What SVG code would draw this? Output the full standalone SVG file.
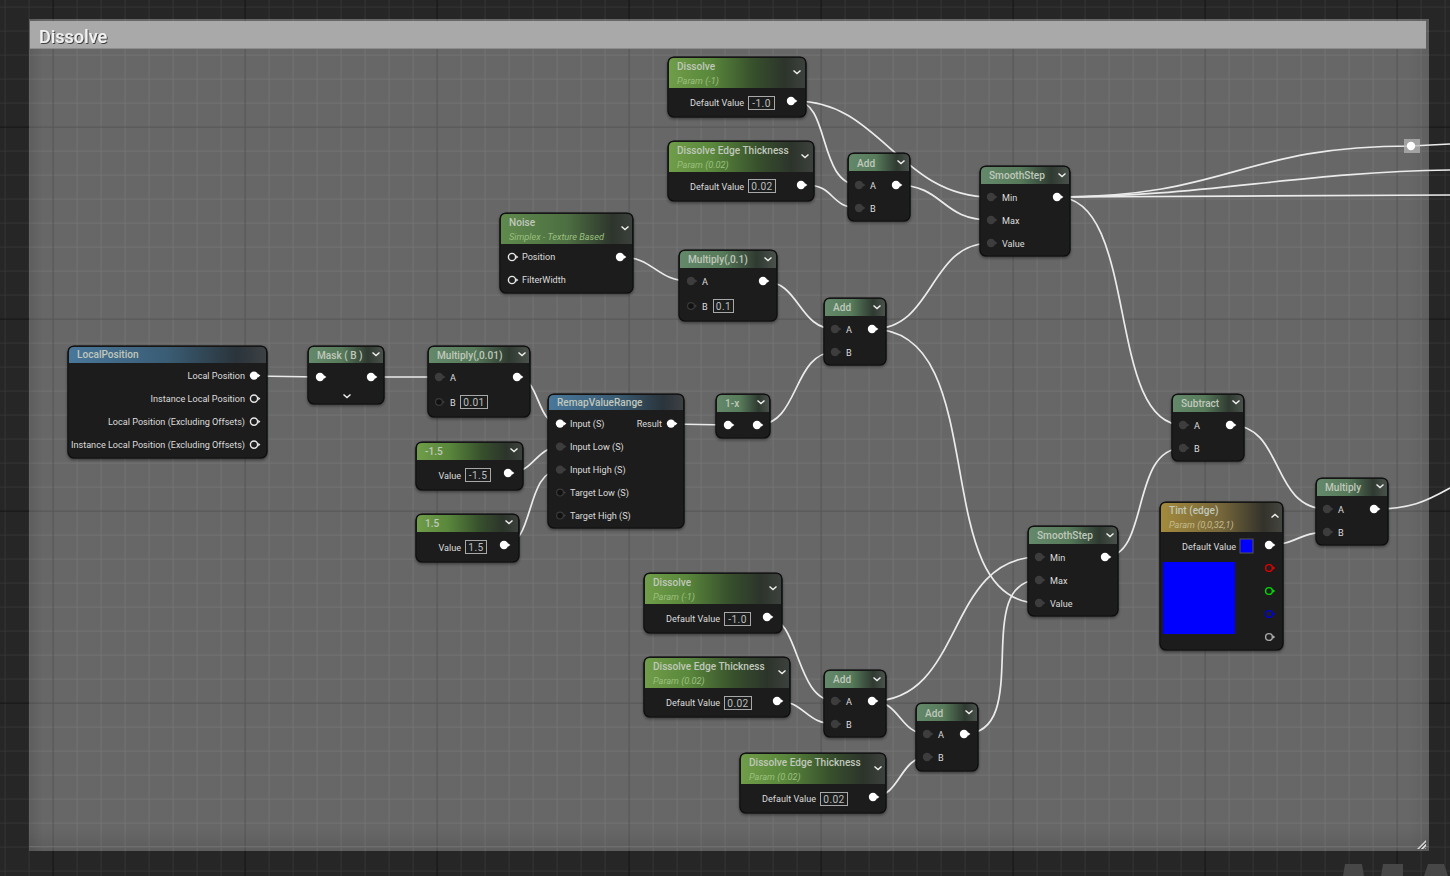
<svg xmlns="http://www.w3.org/2000/svg" width="1450" height="876" viewBox="0 0 1450 876">
<style>
text{font-family:Roboto,"Liberation Sans",sans-serif}
.b{fill:#1e1f1f;stroke:#0b0b0b;stroke-width:1.2;filter:url(#sh)}
.t{font-size:10.1px;fill:#c0c8bc;font-weight:500}
.s{font-size:9.2px;font-style:italic;fill:#9cc07e}
.st{fill:#c4bb8e}
.l{font-size:9.1px;fill:#dcdcdc}
.e{text-anchor:end}
.v{fill:#1c1d1d;stroke:#a8a8a8;stroke-width:1}
.vt{font-size:10.2px;fill:#bdbdbd;text-anchor:middle;letter-spacing:.4px}
.c{fill:none;stroke:#f0f0f0;stroke-width:1.4}
.w{fill:none;stroke:#ebebeb;stroke-width:1.7}
.g{fill:url(#gG)}.m{fill:url(#gM)}.u{fill:url(#gB)}.y{fill:url(#gY)}.n2{fill:url(#gN)}
</style>
<defs>
<filter id="sh" x="-10%" y="-10%" width="120%" height="125%"><feDropShadow dx="0" dy="1.5" stdDeviation="1.5" flood-color="#000" flood-opacity=".45"/></filter>
<filter id="ts"><feDropShadow dx="1" dy="1" stdDeviation=".6" flood-color="#222" flood-opacity=".8"/></filter>
<pattern id="gOut" width="192" height="192" patternUnits="userSpaceOnUse" x="52.6" y="126.6">
<rect width="192" height="192" fill="#262626"/>
<path d="M24.5 0V192M48.5 0V192M72.5 0V192M96.5 0V192M120.5 0V192M144.5 0V192M168.5 0V192M0 24.5H192M0 48.5H192M0 72.5H192M0 96.5H192M0 120.5H192M0 144.5H192M0 168.5H192" stroke="#343434" stroke-width="1"/>
<path d="M.5 0V192M0 .5H192" stroke="#141414" stroke-width="1"/>
</pattern>
<pattern id="gIn" width="192" height="192" patternUnits="userSpaceOnUse" x="52.6" y="126.6">
<rect width="192" height="192" fill="#676767"/>
<path d="M24.5 0V192M48.5 0V192M72.5 0V192M96.5 0V192M120.5 0V192M144.5 0V192M168.5 0V192M0 24.5H192M0 48.5H192M0 72.5H192M0 96.5H192M0 120.5H192M0 144.5H192M0 168.5H192" stroke="#737373" stroke-width="1"/>
<path d="M.5 0V192M0 .5H192" stroke="#555" stroke-width="1"/>
</pattern>
<pattern id="hatch" width="3" height="3" patternUnits="userSpaceOnUse" patternTransform="rotate(45)"><rect width="3" height="3" fill="#444"/><rect width="1.6" height="3" fill="#fff"/></pattern>
<linearGradient id="gG"><stop offset="0" stop-color="#6f9d48"/><stop offset=".3" stop-color="#5a883c"/><stop offset=".62" stop-color="#37502c"/><stop offset=".85" stop-color="#2c342b"/><stop offset="1" stop-color="#3d413d"/></linearGradient>
<linearGradient id="gN"><stop offset="0" stop-color="#5f8a4c"/><stop offset=".5" stop-color="#4d6f42"/><stop offset=".85" stop-color="#2d352c"/><stop offset="1" stop-color="#3c403c"/></linearGradient>
<linearGradient id="gM"><stop offset="0" stop-color="#64896a"/><stop offset=".45" stop-color="#567a5a"/><stop offset=".8" stop-color="#2f3a31"/><stop offset="1" stop-color="#4a514b"/></linearGradient>
<linearGradient id="gB"><stop offset="0" stop-color="#49779a"/><stop offset=".5" stop-color="#3a5c74"/><stop offset=".85" stop-color="#2a343b"/><stop offset="1" stop-color="#3d4144"/></linearGradient>
<linearGradient id="gY"><stop offset="0" stop-color="#a38a3c"/><stop offset=".5" stop-color="#75663a"/><stop offset=".85" stop-color="#33322b"/><stop offset="1" stop-color="#45453f"/></linearGradient>
<linearGradient id="vb" x1="0" y1="0" x2="0" y2="1"><stop offset="0" stop-color="#000" stop-opacity="0"/><stop offset="1" stop-color="#000" stop-opacity=".1"/></linearGradient>
<linearGradient id="vr"><stop offset="0" stop-color="#000" stop-opacity="0"/><stop offset="1" stop-color="#000" stop-opacity=".08"/></linearGradient>
<linearGradient id="vl"><stop offset="0" stop-color="#000" stop-opacity=".1"/><stop offset="1" stop-color="#000" stop-opacity="0"/></linearGradient>
<path id="chD" class="c" d="M-3.5 -1.6L0 1.6L3.5 -1.6"/>
<path id="chU" class="c" d="M-3.5 1.6L0 -1.6L3.5 1.6"/>
<g id="pO"><circle r="4.2" fill="#fff"/><path d="M4 -1.8L6.4 0L4 1.8Z" fill="#fff"/></g>
<g id="pH"><circle r="3.6" fill="#1e1f1f" stroke="#e8e8e8" stroke-width="1.4"/><path d="M4.2 -1.8L6.4 0L4.2 1.8Z" fill="#e8e8e8"/></g>
<g id="pC"><circle r="4.2" fill="#3c3d3c"/><path d="M4 -1.8L6.4 0L4 1.8Z" fill="#3c3d3c"/></g>
<g id="pD"><circle r="3.4" fill="#111" stroke="#3a3a3a" stroke-width="1.2"/><path d="M4 -1.6L6 0L4 1.6Z" fill="#3a3a3a"/></g>
<g id="pR"><circle r="3.4" fill="#1e1f1f" stroke="#e00000" stroke-width="1.4"/><path d="M4 -1.8L6.2 0L4 1.8Z" fill="#e00000"/></g>
<g id="pG"><circle r="3.4" fill="#1e1f1f" stroke="#00d800" stroke-width="1.4"/><path d="M4 -1.8L6.2 0L4 1.8Z" fill="#00d800"/></g>
<g id="pB"><circle r="3.4" fill="#1e1f1f" stroke="#0000d8" stroke-width="1.4"/><path d="M4 -1.8L6.2 0L4 1.8Z" fill="#0000d8"/></g>
<g id="pW"><circle r="3.4" fill="#1e1f1f" stroke="#a8a8a8" stroke-width="1.4"/><path d="M4 -1.8L6.2 0L4 1.8Z" fill="#a8a8a8"/></g>
</defs>

<g id="background">
<rect width="1450" height="876" fill="url(#gOut)"/>
<path d="M1343 876L1345 864H1362L1364 876ZM1381 876L1383 864H1403V876ZM1424 876L1428 864H1444L1448 876Z" fill="#474747"/>
<rect x="29" y="19" width="1400" height="832" fill="url(#gIn)"/>
<rect x="29" y="828" width="1400" height="23" fill="url(#vb)"/>
<rect x="1409" y="19" width="20" height="832" fill="url(#vr)"/>
<rect x="29" y="19" width="14" height="832" fill="url(#vl)"/>
<rect x="29" y="846" width="1400" height="1" fill="#6e6e6e"/>
<rect x="30" y="21" width="1396" height="28" fill="#a9a9a9"/>
<path d="M30 48.5H1426" stroke="#8d8d8d" stroke-width="1"/>
<text x="39" y="43" font-size="18" font-weight="500" fill="#f2f2f2" filter="url(#ts)">Dissolve</text>
<path d="M1426 840V849H1417Z" fill="url(#hatch)"/>
</g>

<g id="connectors">
<path class="w" d="M796 101C830 101 818 185 859 185"/>
<path class="w" d="M796 101C880 101 900 197 991 197"/>
<path class="w" d="M806 185C835 185 830 208 859 208"/>
<path class="w" d="M896 185C945 185 940 220 991 220"/>
<path class="w" d="M620 257C655 257 655 281 691 281"/>
<path class="w" d="M763 281C800 281 798 329 835 329"/>
<path class="w" d="M872 329C935 329 928 243 991 243"/>
<path class="w" d="M872 329C995 329 925 603 1039 603"/>
<path class="w" d="M757 425C800 425 792 352 835 352"/>
<path class="w" d="M254 376L320 377"/>
<path class="w" d="M371 377H439"/>
<path class="w" d="M517 377C540 377 536 424 560 424"/>
<path class="w" d="M508 473C535 473 535 447 560 447"/>
<path class="w" d="M504 545C535 545 525 470 560 470"/>
<path class="w" d="M671 424L728 425"/>
<path class="w" d="M767 617C800 617 795 701 835 701"/>
<path class="w" d="M777 701C805 701 805 724 835 724"/>
<path class="w" d="M872 701C965 701 945 557 1039 557"/>
<path class="w" d="M872 701C900 701 900 734 927 734"/>
<path class="w" d="M873 797C900 797 900 757 927 757"/>
<path class="w" d="M964 734C1035 734 970 580 1039 580"/>
<path class="w" d="M1057 197C1140 197 1105 425 1183 425"/>
<path class="w" d="M1105 557C1150 557 1130 448 1183 448"/>
<path class="w" d="M1230 425C1285 425 1270 509 1327 509"/>
<path class="w" d="M1269 545C1295 545 1300 532 1327 532"/>
<path class="w" d="M1374 509C1410 509 1425 502 1450 488"/>
<path class="w" d="M1057 197C1230 197 1240 146 1411 146L1450 144"/>
<path class="w" d="M1057 197C1200 197 1300 172 1450 170"/>
<path class="w" d="M1057 197C1200 197 1300 195 1450 195"/>
</g>

<g id="reroute">
<rect x="1404" y="139" width="16" height="14" fill="#b5b5b5" fill-opacity=".75"/>
<circle cx="1411" cy="146" r="4.2" fill="#fff"/>
</g>

<g id="dissolve1">
<rect class="b" x="668" y="57" width="138" height="60" rx="6"/>
<path class="g" d="M669 88V63Q669 58 674 58H800Q805 58 805 63V88Z"/>
<text class="t" x="677" y="70">Dissolve</text><text class="s" x="677" y="84">Param (-1)</text>
<use href="#chD" x="797" y="72"/>
<text class="l e" x="744" y="106">Default Value</text>
<rect class="v" x="748.500" y="96.500" width="26" height="13"/><text class="vt" x="761.500" y="107">-1.0</text>
<use href="#pO" x="791" y="101"/>
</g>

<g id="dissolveEdge1">
<rect class="b" x="668" y="141" width="146" height="60" rx="6"/>
<path class="g" d="M669 172V147Q669 142 674 142H808Q813 142 813 147V172Z"/>
<text class="t" x="677" y="154">Dissolve Edge Thickness</text><text class="s" x="677" y="168">Param (0.02)</text>
<use href="#chD" x="805" y="156"/>
<text class="l e" x="744" y="190">Default Value</text>
<rect class="v" x="748.500" y="179.500" width="27" height="13"/><text class="vt" x="762" y="190">0.02</text>
<use href="#pO" x="801" y="185"/>
</g>

<g id="add1">
<rect class="b" x="848" y="153" width="62" height="68" rx="6"/>
<path class="m" d="M849 171V159Q849 154 854 154H904Q909 154 909 159V171Z"/>
<text class="t" x="857" y="167">Add</text><use href="#chD" x="901" y="162"/>
<use href="#pC" x="859" y="185"/><text class="l" x="870" y="189">A</text>
<use href="#pC" x="859" y="208"/><text class="l" x="870" y="212">B</text>
<use href="#pO" x="896" y="185"/>
</g>

<g id="smoothStep1">
<rect class="b" x="980" y="166" width="90" height="90" rx="6"/>
<path class="m" d="M981 184V172Q981 167 986 167H1064Q1069 167 1069 172V184Z"/>
<text class="t" x="989" y="179">SmoothStep</text><use href="#chD" x="1062" y="175"/>
<use href="#pC" x="991" y="197"/><text class="l" x="1002" y="201">Min</text>
<use href="#pC" x="991" y="220"/><text class="l" x="1002" y="224">Max</text>
<use href="#pC" x="991" y="243"/><text class="l" x="1002" y="247">Value</text>
<use href="#pO" x="1057" y="197"/>
</g>

<g id="noise">
<rect class="b" x="500" y="213" width="133" height="80" rx="6"/>
<path class="n2" d="M501 244V219Q501 214 506 214H627Q632 214 632 219V244Z"/>
<text class="t" x="509" y="226">Noise</text><text class="s" x="509" y="240">Simplex - Texture Based</text>
<use href="#chD" x="625" y="228"/>
<use href="#pH" x="512" y="257"/><text class="l" x="522" y="260">Position</text>
<use href="#pH" x="512" y="280"/><text class="l" x="522" y="283">FilterWidth</text>
<use href="#pO" x="620" y="257"/>
</g>

<g id="multiply01">
<rect class="b" x="679" y="250" width="98" height="71" rx="6"/>
<path class="m" d="M680 268V256Q680 251 685 251H771Q776 251 776 256V268Z"/>
<text class="t" x="688" y="263">Multiply(,0.1)</text><use href="#chD" x="768" y="259"/>
<use href="#pC" x="691" y="281"/><text class="l" x="702" y="285">A</text>
<use href="#pD" x="691" y="306"/><text class="l" x="702" y="310">B</text>
<rect class="v" x="713.500" y="299.500" width="20" height="13"/><text class="vt" x="723.500" y="310">0.1</text>
<use href="#pO" x="763" y="281"/>
</g>

<g id="add2">
<rect class="b" x="824" y="298" width="62" height="67" rx="6"/>
<path class="m" d="M825 316V304Q825 299 830 299H880Q885 299 885 304V316Z"/>
<text class="t" x="833" y="311">Add</text><use href="#chD" x="877" y="307"/>
<use href="#pC" x="835" y="329"/><text class="l" x="846" y="333">A</text>
<use href="#pC" x="835" y="352"/><text class="l" x="846" y="356">B</text>
<use href="#pO" x="872" y="329"/>
</g>

<g id="localPosition">
<rect class="b" x="68" y="346" width="199" height="112" rx="6"/>
<path class="u" d="M69 363V352Q69 347 74 347H261Q266 347 266 352V363Z"/>
<text class="t" x="77" y="358">LocalPosition</text>
<text class="l e" x="245" y="379">Local Position</text><use href="#pO" x="254" y="375.600"/>
<text class="l e" x="245" y="402">Instance Local Position</text><use href="#pH" x="254" y="398.600"/>
<text class="l e" x="245" y="425">Local Position (Excluding Offsets)</text><use href="#pH" x="254" y="421.600"/>
<text class="l e" x="245" y="448">Instance Local Position (Excluding Offsets)</text><use href="#pH" x="254" y="444.600"/>
</g>

<g id="mask">
<rect class="b" x="308" y="346" width="76" height="58" rx="6"/>
<path class="m" d="M309 363V352Q309 347 314 347H378Q383 347 383 352V363Z"/>
<text class="t" x="317" y="359">Mask ( B )</text><use href="#chD" x="376" y="354"/>
<use href="#pO" x="320" y="377"/><use href="#pO" x="371" y="377"/>
<use href="#chD" x="347" y="396"/>
</g>

<g id="multiply001">
<rect class="b" x="428" y="346" width="102" height="71" rx="6"/>
<path class="m" d="M429 363V352Q429 347 434 347H524Q529 347 529 352V363Z"/>
<text class="t" x="437" y="359">Multiply(,0.01)</text><use href="#chD" x="522" y="354"/>
<use href="#pC" x="439" y="377"/><text class="l" x="450" y="381">A</text>
<use href="#pD" x="439" y="402"/><text class="l" x="450" y="406">B</text>
<rect class="v" x="460.500" y="395.500" width="27" height="13"/><text class="vt" x="474" y="406">0.01</text>
<use href="#pO" x="517" y="377"/>
</g>

<g id="remap">
<rect class="b" x="548" y="394" width="136" height="134" rx="6"/>
<path class="u" d="M549 410V400Q549 395 554 395H678Q683 395 683 400V410Z"/>
<text class="t" x="557" y="406">RemapValueRange</text>
<use href="#pO" x="560" y="423.600"/><text class="l" x="570" y="427">Input (S)</text>
<use href="#pC" x="560" y="446.600"/><text class="l" x="570" y="450">Input Low (S)</text>
<use href="#pC" x="560" y="469.600"/><text class="l" x="570" y="473">Input High (S)</text>
<use href="#pD" x="560" y="492.600"/><text class="l" x="570" y="496">Target Low (S)</text>
<use href="#pD" x="560" y="515.600"/><text class="l" x="570" y="519">Target High (S)</text>
<text class="l e" x="662" y="427">Result</text><use href="#pO" x="671" y="423.600"/>
</g>

<g id="constNeg15">
<rect class="b" x="416" y="442" width="107" height="48" rx="6"/>
<path class="g" d="M417 460V448Q417 443 422 443H517Q522 443 522 448V460Z"/>
<text class="t" x="425" y="455">-1.5</text><use href="#chD" x="514" y="450"/>
<text class="l e" x="461" y="479">Value</text>
<rect class="v" x="465.500" y="468.500" width="25" height="13"/><text class="vt" x="478" y="479">-1.5</text>
<use href="#pO" x="508" y="473"/>
</g>

<g id="const15">
<rect class="b" x="416" y="514" width="103" height="48" rx="6"/>
<path class="g" d="M417 532V520Q417 515 422 515H513Q518 515 518 520V532Z"/>
<text class="t" x="425" y="527">1.5</text><use href="#chD" x="509" y="522"/>
<text class="l e" x="461" y="551">Value</text>
<rect class="v" x="465.500" y="540.500" width="21" height="13"/><text class="vt" x="476" y="551">1.5</text>
<use href="#pO" x="504" y="545"/>
</g>

<g id="oneMinusX">
<rect class="b" x="716" y="394" width="54" height="44" rx="6"/>
<path class="m" d="M717 412V400Q717 395 722 395H764Q769 395 769 400V412Z"/>
<text class="t" x="725" y="407">1-x</text><use href="#chD" x="761" y="402"/>
<use href="#pO" x="728" y="425"/><use href="#pO" x="757" y="425"/>
</g>

<g id="dissolve2">
<rect class="b" x="644" y="573" width="138" height="60" rx="6"/>
<path class="g" d="M645 604V579Q645 574 650 574H776Q781 574 781 579V604Z"/>
<text class="t" x="653" y="586">Dissolve</text><text class="s" x="653" y="600">Param (-1)</text>
<use href="#chD" x="773" y="588"/>
<text class="l e" x="720" y="622">Default Value</text>
<rect class="v" x="724.500" y="612.500" width="26" height="13"/><text class="vt" x="737.500" y="623">-1.0</text>
<use href="#pO" x="767" y="617"/>
</g>

<g id="dissolveEdge2">
<rect class="b" x="644" y="657" width="146" height="60" rx="6"/>
<path class="g" d="M645 688V663Q645 658 650 658H784Q789 658 789 663V688Z"/>
<text class="t" x="653" y="670">Dissolve Edge Thickness</text><text class="s" x="653" y="684">Param (0.02)</text>
<use href="#chD" x="782" y="672"/>
<text class="l e" x="720" y="706">Default Value</text>
<rect class="v" x="724.500" y="696.500" width="27" height="13"/><text class="vt" x="738" y="707">0.02</text>
<use href="#pO" x="777" y="701"/>
</g>

<g id="add3">
<rect class="b" x="824" y="670" width="62" height="67" rx="6"/>
<path class="m" d="M825 688V676Q825 671 830 671H880Q885 671 885 676V688Z"/>
<text class="t" x="833" y="683">Add</text><use href="#chD" x="877" y="679"/>
<use href="#pC" x="835" y="701"/><text class="l" x="846" y="705">A</text>
<use href="#pC" x="835" y="724"/><text class="l" x="846" y="728">B</text>
<use href="#pO" x="872" y="701"/>
</g>

<g id="add4">
<rect class="b" x="916" y="703" width="62" height="68" rx="6"/>
<path class="m" d="M917 721V709Q917 704 922 704H972Q977 704 977 709V721Z"/>
<text class="t" x="925" y="717">Add</text><use href="#chD" x="969" y="712"/>
<use href="#pC" x="927" y="734"/><text class="l" x="938" y="738">A</text>
<use href="#pC" x="927" y="757"/><text class="l" x="938" y="761">B</text>
<use href="#pO" x="964" y="734"/>
</g>

<g id="dissolveEdge3">
<rect class="b" x="740" y="753" width="146" height="60" rx="6"/>
<path class="g" d="M741 784V759Q741 754 746 754H880Q885 754 885 759V784Z"/>
<text class="t" x="749" y="766">Dissolve Edge Thickness</text><text class="s" x="749" y="780">Param (0.02)</text>
<use href="#chD" x="878" y="768"/>
<text class="l e" x="816" y="802">Default Value</text>
<rect class="v" x="820.500" y="792.500" width="27" height="13"/><text class="vt" x="834" y="803">0.02</text>
<use href="#pO" x="873" y="797"/>
</g>

<g id="smoothStep2">
<rect class="b" x="1028" y="526" width="90" height="90" rx="6"/>
<path class="m" d="M1029 544V532Q1029 527 1034 527H1112Q1117 527 1117 532V544Z"/>
<text class="t" x="1037" y="539">SmoothStep</text><use href="#chD" x="1110" y="535"/>
<use href="#pC" x="1039" y="557"/><text class="l" x="1050" y="561">Min</text>
<use href="#pC" x="1039" y="580"/><text class="l" x="1050" y="584">Max</text>
<use href="#pC" x="1039" y="603"/><text class="l" x="1050" y="607">Value</text>
<use href="#pO" x="1105" y="557"/>
</g>

<g id="subtract">
<rect class="b" x="1172" y="394" width="72" height="67" rx="6"/>
<path class="m" d="M1173 412V400Q1173 395 1178 395H1238Q1243 395 1243 400V412Z"/>
<text class="t" x="1181" y="407">Subtract</text><use href="#chD" x="1236" y="402"/>
<use href="#pC" x="1183" y="425"/><text class="l" x="1194" y="429">A</text>
<use href="#pC" x="1183" y="448"/><text class="l" x="1194" y="452">B</text>
<use href="#pO" x="1230" y="425"/>
</g>

<g id="multiply">
<rect class="b" x="1316" y="478" width="72" height="67" rx="6"/>
<path class="m" d="M1317 496V484Q1317 479 1322 479H1382Q1387 479 1387 484V496Z"/>
<text class="t" x="1325" y="491">Multiply</text><use href="#chD" x="1380" y="486"/>
<use href="#pC" x="1327" y="509"/><text class="l" x="1338" y="513">A</text>
<use href="#pC" x="1327" y="532"/><text class="l" x="1338" y="536">B</text>
<use href="#pO" x="1374" y="509"/>
</g>

<g id="tintEdge">
<rect class="b" x="1160" y="502" width="123" height="148" rx="6"/>
<path class="y" d="M1161 532V508Q1161 503 1166 503H1277Q1282 503 1282 508V532Z"/>
<text class="t" x="1169" y="514">Tint (edge)</text><text class="s st" x="1169" y="528">Param (0,0,32,1)</text>
<use href="#chU" x="1275" y="516"/>
<text class="l e" x="1236" y="550">Default Value</text>
<rect x="1240" y="539" width="13" height="14" fill="#0000ff" stroke="#555" stroke-width="1"/>
<use href="#pO" x="1269" y="545"/>
<rect x="1163" y="562" width="72" height="72" fill="#0000ff"/>
<use href="#pR" x="1269" y="568"/><use href="#pG" x="1269" y="591"/><use href="#pB" x="1269" y="614"/><use href="#pW" x="1269" y="637"/>
</g>
</svg>
